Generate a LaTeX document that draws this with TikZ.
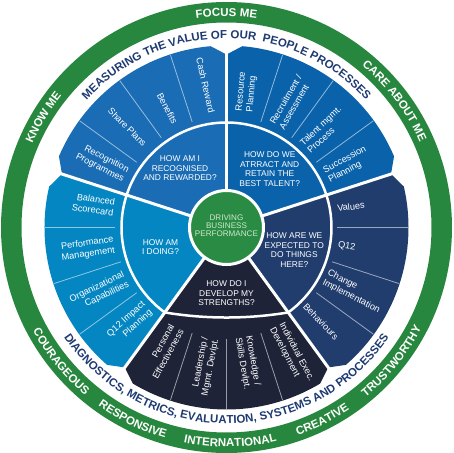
\documentclass[tikz,border=0pt]{standalone}
\usepackage{fontspec}
\setmainfont{Liberation Sans}
\usetikzlibrary{decorations.text}
\definecolor{ringgreen}{RGB}{40,135,62}
\definecolor{coregreen}{RGB}{42,140,68}
\definecolor{navytxt}{RGB}{30,58,115}
\definecolor{secTL}{RGB}{26,108,180}
\definecolor{secTR}{RGB}{10,98,170}
\definecolor{secL}{RGB}{4,134,194}
\definecolor{secR}{RGB}{33,61,110}
\definecolor{secB}{RGB}{31,35,56}
\definecolor{coretxt}{RGB}{208,232,205}
\newcommand\wheelTop[4]{%
  \path[decorate, decoration={text along path, text align=center, text color=#2,
     text={|\bfseries\fontsize{11.5}{12}\selectfont|#1}}]
     ({#3+70}:#4) arc[start angle={#3+70}, end angle={#3-70}, radius=#4];}
\newcommand\wheelBot[4]{%
  \path[decorate, decoration={text along path, text align=center, text color=#2,
     text={|\bfseries\fontsize{11.5}{12}\selectfont|#1}}]
     ({#3-75}:#4) arc[start angle={#3-75}, end angle={#3+75}, radius=#4];}
\begin{document}
\begin{tikzpicture}[x=1pt,y=1pt,
  qtext/.style={text=white, align=center, font=\fontsize{8.4}{9.5}\selectfont, inner sep=0pt},
  itemL/.style={text=white, align=right, anchor=east, font=\fontsize{9.2}{10.8}\selectfont, inner sep=0pt, outer sep=0pt},
  itemR/.style={text=white, align=left, anchor=west, font=\fontsize{9.2}{10.8}\selectfont, inner sep=0pt, outer sep=0pt},
  sepline/.style={white, line width=3pt},
  ringsep/.style={white, line width=2.5pt},
  subline/.style={white, opacity=0.55, line width=0.8pt},
]
\useasboundingbox (-226.5,-225.5) rectangle (226.5,227.5);
% outer green ring
\fill[ringgreen, even odd rule] (0,0) circle[radius=225.5] (0,0) circle[radius=205];
% sectors
\foreach \a/\b/\c in {18/90/secTR, 90/162/secTL, 162/234/secL, 234/306/secB, 306/378/secR}{
  \fill[\c] (0,0) -- (\a:173) -- ({\a+5}:182) arc[start angle={\a+5}, end angle={\b-5}, radius=182] -- (\b:173) -- cycle;
}
% sub dividers
\foreach \t in {36,54,72,108,126,144,180,198,216,252,270,288,324,342,360}
  \draw[subline] (\t:111) -- (\t:181.5);
% ring separators
\draw[ringsep] (-54:105) arc[start angle=-54, end angle=234, radius=105];
\draw[ringsep] (234:105) .. controls (-20.6,-91.7) and (20.6,-91.7) .. (306:105);
% radial separators
\foreach \t in {18,90,162,234,306}
  \draw[sepline] (0,0) -- (\t:186);
% core
\draw[white, line width=3pt, fill=coregreen] (0,0) circle[radius=37];
\node[qtext, text=coretxt, font=\fontsize{8.1}{8.4}\selectfont] (core) at (0,1.8) {DRIVING\\BUSINESS\\PERFORMANCE};
% questions
\node[qtext] (q1) at (-46.5,59) {HOW AM I\\RECOGNISED\\AND REWARDED?};
\node[qtext] (q2) at (43.2,58.3) {HOW DO WE\\ATRRACT AND\\RETAIN THE\\BEST TALENT?};
\node[qtext] (q3) at (-66,-19.5) {HOW AM\\I DOING?};
\node[qtext] (q4) at (67.8,-22.7) {HOW ARE WE\\EXPECTED TO\\DO THINGS\\HERE?};
\node[qtext] (q5) at (0,-66) {HOW DO I\\DEVELOP MY\\STRENGTHS?};
% items
\node[itemL, rotate=-77] (cash) at (97.3:116) {Cash Reward};
\node[itemL, rotate=-62] (ben) at (116.2:116.5) {Benefits};
\node[itemL, rotate=-45] (share) at (134.6:116) {Share Plans};
\node[itemL, rotate=-27] (recog) at (152.5:113.6) {Recognition\\Programmes};
\node[itemR, rotate=85] (res) at (81:117.5) {Resource\\Planning};
\node[itemR, rotate=60] (recr) at (63.7:113.4) {Recruitment /\\Assessment};
\node[itemR, rotate=43] (talent) at (45.5:112) {Talent mgmt.\\Process};
\node[itemR, rotate=28] (succ) at (27.3:112.7) {Succession\\Planning};
\node[itemL, rotate=-8] (bal) at (169.9:114) {Balanced\\Scorecard};
\node[itemL, rotate=8] (perf) at (188.9:113.7) {Performance\\Management};
\node[itemL, rotate=26] (org) at (207.2:113) {Organizational\\Capabilities};
\node[itemL, rotate=42] (q12i) at (225.4:112.4) {Q12 Impact\\Planning};
\node[itemR, rotate=7] (val) at (9.8:112.5) {Values};
\node[itemR, rotate=-8] (q12) at (-8.9:113) {Q12};
\node[itemR, rotate=-27] (chg) at (-26.7:111) {Change\\Implementation};
\node[itemR, rotate=-46] (beh) at (-44.6:110.3) {Behaviours};
\node[itemL, rotate=61] (pers) at (243.5:112) {Personal\\Effectiveness};
\node[itemL, rotate=79] (lead) at (261.9:112) {Leadership /\\Mgmt. Devlpt.};
\node[itemR, rotate=-80] (know) at (278.7:110.5) {Knowledge /\\Skills Devlpt.};
\node[itemR, rotate=-62] (indiv) at (297:110.4) {Individual Exec.\\Development};
% curved navy texts
\wheelTop{MEASURING THE VALUE OF OUR{\ } PEOPLE PROCESSES}{navytxt}{90}{189}
\wheelBot{DIAGNOSTICS, METRICS, EVALUATION, SYSTEMS AND PROCESSES}{navytxt}{270}{196}
% curved ring texts
\wheelTop{FOCUS ME}{white}{90}{211.2}
\wheelTop{CARE ABOUT ME}{white}{37}{211.2}
\wheelTop{KNOW ME}{white}{149}{211.2}
\wheelBot{COURAGEOUS}{white}{219}{219.4}
\wheelBot{RESPONSIVE}{white}{244}{219.4}
\wheelBot{INTERNATIONAL}{white}{271}{219.4}
\wheelBot{CREATIVE}{white}{296.5}{219.4}
\wheelBot{TRUSTWORTHY}{white}{321}{219.4}
\end{tikzpicture}
\end{document}
